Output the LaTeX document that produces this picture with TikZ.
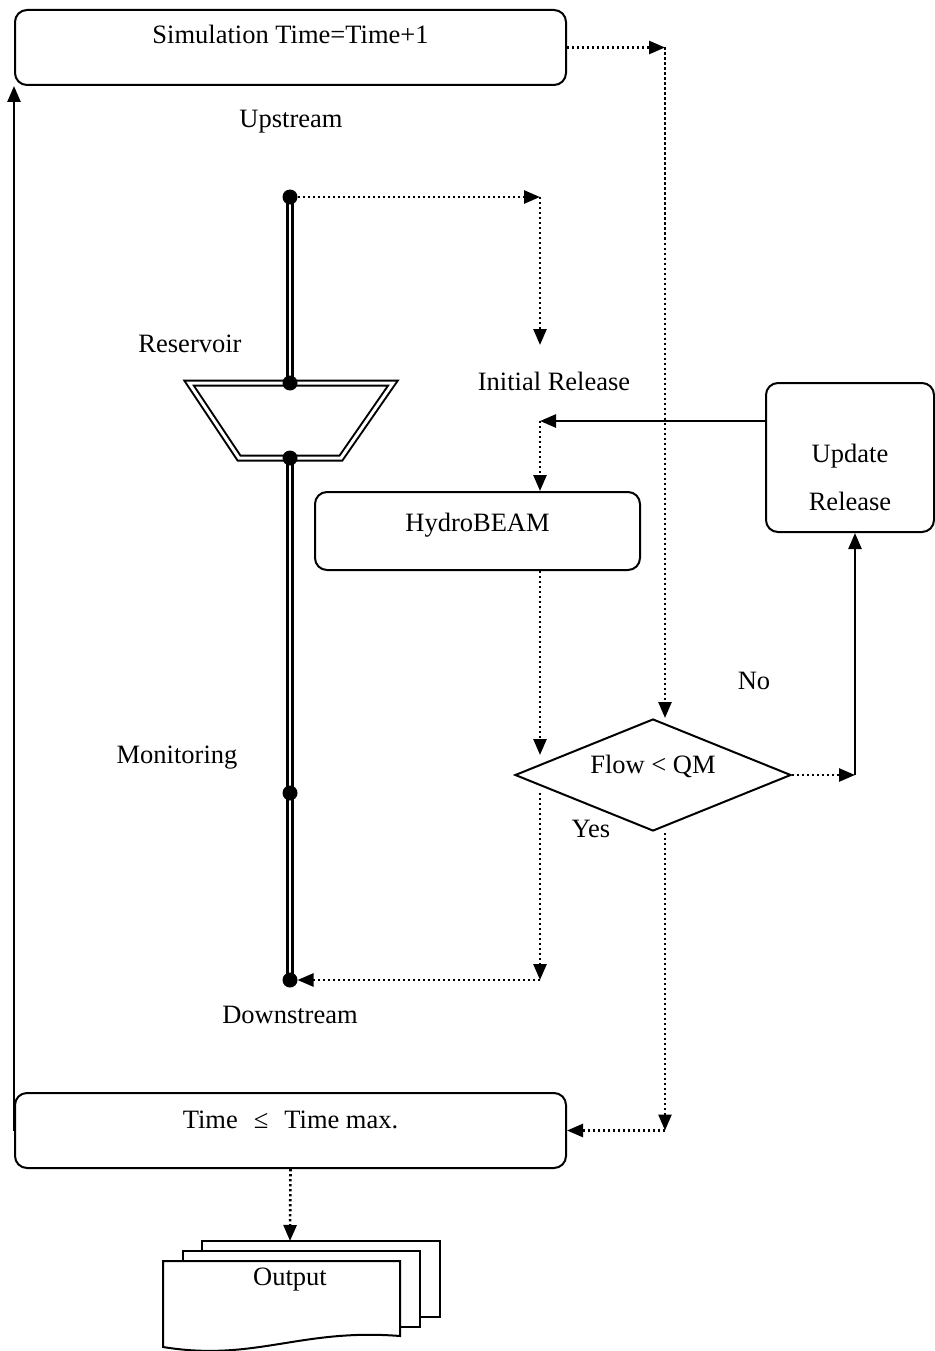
\documentclass[tikz,border=0pt]{standalone}
\usepackage{fontspec}
\setmainfont{Liberation Serif}
\usetikzlibrary{arrows.meta,shapes.geometric}

\begin{document}
\begin{tikzpicture}[x=1pt, y=-1pt, line width=2pt,
  font=\fontsize{26.5}{32}\selectfont,
  box/.style={draw, rounded corners=12pt, inner sep=0pt, anchor=base},
  tip/.style={-{Triangle[length=16pt,width=13pt]}},
  dots/.style={line width=2.6pt, dash pattern=on 2.4pt off 2.6pt},
  pipe/.style={double, line width=2.5pt, double distance=2.5pt},
  lbl/.style={anchor=base, inner sep=0pt}]
  \useasboundingbox (0,0) rectangle (934,1351);
  % boxes
  \node[box, minimum width=551pt, text height=34pt, text depth=41pt] (sim) at (290.5,44) {Simulation Time=Time+1};
  \node[box, minimum width=551pt, text height=35pt, text depth=40pt] (tmax) at (290.5,1128) {Time\hspace{16pt}≤\hspace{16pt}Time max.};
  \node[box, minimum width=325pt, text height=39pt, text depth=39pt] (hydro) at (477.5,531) {HydroBEAM};
  \node[box, minimum width=168pt, text height=79pt, text depth=70pt] (upd) at (850,462)
    {\begin{tabular}[t]{@{}c@{}}Update\\[16pt]Release\end{tabular}};
  \node[draw, diamond, aspect=2.46, minimum width=276pt, minimum height=112pt, inner sep=0pt,
    text height=12pt, text depth=16pt] (flow) at (653,775) {Flow < QM};
  % labels
  \node[lbl] (upstr) at (291,128) {Upstream};
  \node[lbl] (resv) at (190,352) {Reservoir};
  \node[lbl] (init) at (554,390) {Initial Release};
  \node[lbl] (monit) at (177,763) {Monitoring};
  \node[lbl] (downstr) at (290,1023) {Downstream};
  \node[lbl] (yes) at (591,837) {Yes};
  \node[lbl] (no) at (754,689) {No};
  % river with reservoir and monitoring points
  \coordinate (up) at (290,197);
  \coordinate (rtop) at (290,383);
  \coordinate (rbot) at (290,458);
  \coordinate (mon) at (290,793);
  \coordinate (down) at (290,980);
  \draw[pipe] (up) -- (rtop);
  \draw[pipe] (rbot) -- (down);
  \draw[double, line width=2pt, double distance=3pt] (189,383) -- (393,383) -- (341,458) -- (239,458) -- cycle;
  \foreach \p in {up,rtop,rbot,mon,down}
    \fill (\p) circle (7.5pt);
  % output documents
  \filldraw[fill=white] (202,1241) rectangle (440,1317);
  \filldraw[fill=white] (183,1251) rectangle (420,1327);
  \filldraw[fill=white] (163,1261) -- (400,1261) -- (400,1336) .. controls (300,1328) and (255,1362) .. (163,1347) -- cycle;
  \node[lbl] (out) at (290,1285) {Output};
  \coordinate (outtop) at (290,1241);
  % bend points
  \coordinate (simr) at (665,47.5);
  \coordinate (upr) at (540,197);
  \coordinate (initin) at (540,345);
  \coordinate (rel) at (540,421);
  \coordinate (hin) at (540,755);
  \coordinate (bout) at (540,793);
  \coordinate (bend) at (540,980);
  \coordinate (yout) at (665,833);
  \coordinate (yend) at (665,1130.5);
  \coordinate (nend) at (855,775);
  % connectors
  \draw[dots, tip] (sim.east) -- (simr);
  \draw[dots, tip] (simr) -- (simr |- flow.north);
  \draw[dots, tip, shorten <=8pt] (up) -- (upr);
  \draw[dots, tip] (upr) -- (initin);
  \draw[line width=2.5pt, tip] (rel -| upd.west) -- (rel);
  \draw[dots, tip] (rel) -- (rel |- hydro.north);
  \draw[dots, tip] (rel |- hydro.south) -- (hin);
  \draw[dots, tip] (flow.east) -- (nend);
  \draw[line width=2.5pt, tip] (nend) -- (nend |- upd.south);
  \draw[dots, tip] (bout) -- (bend);
  \draw[dots, tip, shorten >=7.5pt] (bend) -- (down);
  \draw[dots, tip] (yout) -- (yend);
  \draw[dots, tip] (yend) -- (tmax.east);
  \draw[line width=2.5pt, tip] (tmax.west) -- (tmax.west |- sim.south);
  \draw[dots, tip] (tmax.south) -- (outtop);
\end{tikzpicture}
\end{document}
